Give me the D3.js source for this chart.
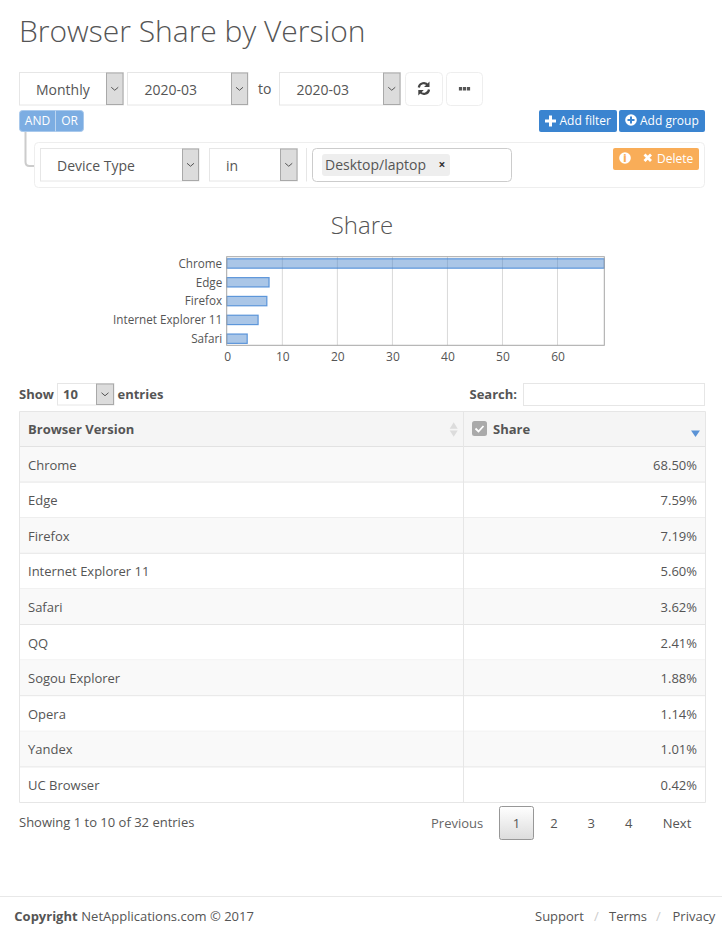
<!DOCTYPE html>
<html><head><meta charset="utf-8">
<script src="https://cdn.jsdelivr.net/npm/d3@7"></script>
<style>
html,body{margin:0;padding:0;background:#fff}
svg{display:block}
text{font-family:"Open Sans",sans-serif;fill:#555}
</style></head><body>
<svg id="page" width="722" height="931"></svg>
<script>
const browserNames = ["Chrome","Edge","Firefox","Internet Explorer 11","Safari","QQ","Sogou Explorer","Opera","Yandex","UC Browser"];
const shareValues = [68.50,7.59,7.19,5.60,3.62,2.41,1.88,1.14,1.01,0.42];
const chartCount = 5;
const xTicks = [0,10,20,30,40,50,60];
const pageLabels = ["2","3","4"];

const svg = d3.select("#page");
function T(x,y,s,o={}){
  const t=svg.append("text").attr("x",x).attr("y",y).text(s)
    .attr("font-size",o.size||14).attr("text-anchor",o.anchor||"start");
  if(o.weight)t.attr("font-weight",o.weight);
  if(o.fill)t.style("fill",o.fill);
  return t;
}
function R(x0,y0,x1,y1,o={}){
  return svg.append("rect").attr("x",x0).attr("y",y0).attr("width",x1-x0).attr("height",y1-y0)
    .attr("rx",o.r||0).attr("fill",o.fill||"#fff").attr("stroke",o.stroke||"none").attr("stroke-width",o.sw||1);
}
function L(x0,y0,x1,y1,c,w){
  return svg.append("line").attr("x1",x0).attr("y1",y0).attr("x2",x1).attr("y2",y1).attr("stroke",c).attr("stroke-width",w||1);
}
function select(x0,x1,ax,y0,y1,label,tx,o={}){
  R(x0+.5,y0+.5,x1-.5,y1-.5,{stroke:"#e6e6e6"});
  R(ax+.5,y0+1,x1-1,y1-1,{fill:"#dcdcdc",stroke:"#a9a9a9"});
  const cx=(ax+x1-.5)/2, cy=(y0+y1)/2;
  svg.append("path").attr("d",`M${cx-3.5},${cy-1.5}L${cx},${cy+1.5}L${cx+3.5},${cy-1.5}`).attr("fill","none").attr("stroke","#555").attr("stroke-width",1);
  T(tx,cy+(o.dy===undefined?6:o.dy),label,{size:o.size||14,weight:o.weight});
}

// Header
T(19,42,"Browser Share by Version",{size:30,weight:300});
select(19,124,106,72,105.5,"Monthly",36);
select(127,248.5,231,72,105.5,"2020-03",144.5);
T(258,94,"to");
select(279,401,383,72,105.5,"2020-03",296.5);
R(405.5,72.5,442.5,105.5,{stroke:"#eee",r:4});
R(446.5,72.5,482.5,105.5,{stroke:"#eee",r:4});
// refresh icon
svg.append("path").attr("d","M418.8,87.5A5,5 0 0 1 428,85.5M429,89.5A5,5 0 0 1 419.8,91.5").attr("fill","none").attr("stroke","#444").attr("stroke-width",2.2);
svg.append("path").attr("d","M429.5,81.5V87H424ZM418.3,95.5V90H423.8Z").attr("fill","#444");
[460.5,464.5,468.5].forEach(x=>R(x-1.6,87,x+1.6,90.5,{fill:"#555"}));

// Logic buttons
R(19.5,110.5,83.5,131.5,{fill:"#7cade2",stroke:"#a9c9ec",r:3});
L(55.5,110.5,55.5,131.5,"#bcd5f0");
T(37.5,125,"AND",{size:12,anchor:"middle",fill:"#fff"});
T(69.5,125,"OR",{size:12,anchor:"middle",fill:"#fff"});
R(539,110,617,132,{fill:"#3a84d0",r:2});
R(619,110,705,132,{fill:"#3a84d0",r:2});
svg.append("path").attr("d","M545,121H556M550.5,115.5V126.5").attr("stroke","#fff").attr("stroke-width",3);
T(559.5,125,"Add filter",{size:12,fill:"#fff"});
svg.append("circle").attr("cx",631).attr("cy",120).attr("r",5.8).attr("fill","#fff");
svg.append("path").attr("d","M627.5,120H634.5M631,116.5V123.5").attr("stroke","#3a84d0").attr("stroke-width",2);
T(640,125,"Add group",{size:12,fill:"#fff"});

// Filter group
svg.append("path").attr("d","M25.5,132V162Q25.5,166 29.5,166H36").attr("fill","none").attr("stroke","#ccc").attr("stroke-width",2);
R(34.5,142.5,704.5,187.5,{stroke:"#eee",r:4});
select(40,199.5,182,148,181.5,"Device Type",57);
select(209,298,280,148,181.5,"in",226);
L(306.5,148,306.5,181.5,"#e6e6e6");
R(312.5,148.5,511.5,181.5,{stroke:"#ccc",r:4});
R(322,154,450,176,{fill:"#eee",r:3});
T(325,170,"Desktop/laptop");
T(442,169,"×",{size:12,anchor:"middle",weight:700,fill:"#333"});
R(613,148,699,170,{fill:"#f9ad58",r:2});
svg.append("circle").attr("cx",625).attr("cy",158).attr("r",5.8).attr("fill","#fff");
T(625,162,"i",{size:10,anchor:"middle",weight:800,fill:"#f9ad58"});
svg.append("path").attr("d","M644.5,154.5L651,161M651,154.5L644.5,161").attr("stroke","#fff").attr("stroke-width",2.8);
T(657,163,"Delete",{size:12,fill:"#fff"});

// Chart
const plot={l:226.7,r:604.3,t:256.7,b:345.3};
T(362,234,"Share",{size:24,weight:300,anchor:"middle"});
const x=d3.scaleLinear().domain([0,shareValues[0]]).range([227.3,604.3]);
const chartNames=browserNames.slice(0,chartCount);
const y=d3.scalePoint().domain(chartNames).range([263.5,338.7]);
const g=svg.append("g");
g.selectAll("line.grid").data(xTicks.slice(1)).join("line").attr("class","grid")
  .attr("x1",d=>x(d)).attr("x2",d=>x(d)).attr("y1",plot.t).attr("y2",plot.b)
  .attr("stroke","#d9d9d9").attr("stroke-width",1);
g.selectAll("rect.bar").data(chartNames).join("rect").attr("class","bar")
  .attr("x",plot.l).attr("y",d=>y(d)-4.7).attr("height",9.4)
  .attr("width",(d,i)=>x(shareValues[i])-plot.l)
  .attr("fill","rgba(74,134,205,.47)").attr("stroke","rgba(55,125,210,.75)").attr("stroke-width",1.2);
g.append("rect").attr("x",plot.l).attr("y",plot.t).attr("width",plot.r-plot.l).attr("height",plot.b-plot.t)
  .attr("fill","none").attr("stroke","#a6a6a6").attr("stroke-width",1);
const xAxis=g.append("g").attr("transform",`translate(0,${plot.b})`).call(d3.axisBottom(x).tickValues(xTicks).tickSize(0).tickPadding(7.5));
xAxis.select(".domain").remove();
xAxis.selectAll("text").attr("font-size",12).attr("font-family",'"Open Sans",sans-serif').style("fill","#555");
const yAxis=g.append("g").attr("transform",`translate(${plot.l},0)`).call(d3.axisLeft(y).tickSize(0).tickPadding(4.5));
yAxis.select(".domain").remove();
yAxis.selectAll("text").attr("font-size",11.7).attr("font-family",'"Open Sans",sans-serif').style("fill","#555");

// Table controls
T(19,399,"Show",{size:13,weight:700});
select(57,114.5,96,383,405.5,"10",63,{size:13,weight:700,dy:5});
T(117.5,399,"entries",{size:13,weight:700});
T(469.5,399,"Search:",{size:13,weight:700});
R(523.5,383.5,704.5,405.5,{stroke:"#e6e6e6"});

// Table
const tl=19.5,tr=705.5,sep=463.5;
const rowY=d3.scaleLinear().domain([0,browserNames.length]).range([446.5,802.5]);
R(tl,411.5,tr,446.5,{fill:"#f5f5f5"});
browserNames.forEach((n,i)=>{
  if(i%2===0)R(tl,rowY(i),tr,rowY(i+1),{fill:"#f9f9f9"});
  L(tl,rowY(i+1),tr,rowY(i+1),"#e6e6e6");
  const base=Math.round(rowY(i)+23.01);
  T(28,base,n,{size:13});
  T(697,base,shareValues[i].toFixed(2)+"%",{size:13,anchor:"end"});
});
L(tl,411.5,tr,411.5,"#e6e6e6");
L(tl,446.5,tr,446.5,"#e2e2e2");
L(tl,411.5,tl,802.5,"#e6e6e6");
L(tr,411.5,tr,802.5,"#e6e6e6");
L(sep,411.5,sep,802.5,"#e6e6e6");
T(28,434,"Browser Version",{size:13,weight:700});
svg.append("path").attr("d","M449.7,428.7L453.7,422.3L457.7,428.7ZM449.7,430.5L453.7,436.7L457.7,430.5Z").attr("fill","#dcdcdc");
R(472,421,487,436,{fill:"#aaa",r:2.5});
svg.append("path").attr("d","M475.5,428.5L478.5,431.5L483.5,426").attr("fill","none").attr("stroke","#fff").attr("stroke-width",1.8);
T(493,434,"Share",{size:13,weight:700});
svg.append("path").attr("d","M691,430.5H700L695.5,437Z").attr("fill","#5b93d6");

// Pagination
T(19,827,"Showing 1 to 10 of 32 entries",{size:13});
const grad=svg.append("defs").append("linearGradient").attr("id","pg").attr("x1",0).attr("x2",0).attr("y1",0).attr("y2",1);
grad.append("stop").attr("offset",0).attr("stop-color","#fff");
grad.append("stop").attr("offset",1).attr("stop-color","#dcdcdc");
R(499.5,806.5,533.5,839.5,{fill:"url(#pg)",stroke:"#979797",r:2});
T(431,828,"Previous",{size:13,fill:"#666"});
T(516.5,828,"1",{size:13,anchor:"middle"});
pageLabels.forEach((p,i)=>T(554+i*37.3,828,p,{size:13,anchor:"middle"}));
T(677,828,"Next",{size:13,anchor:"middle"});

// Footer
L(0,896.5,722,896.5,"#e8e8e8");
T(14.3,921,"Copyright",{size:13,weight:700});
T(81.3,921,"NetApplications.com © 2017",{size:13});
T(535,921,"Support",{size:13});
T(594,921,"/",{size:13,fill:"#ccc"});
T(609,921,"Terms",{size:13});
T(656,921,"/",{size:13,fill:"#ccc"});
T(672.5,921,"Privacy",{size:13});
</script>
</body></html>
